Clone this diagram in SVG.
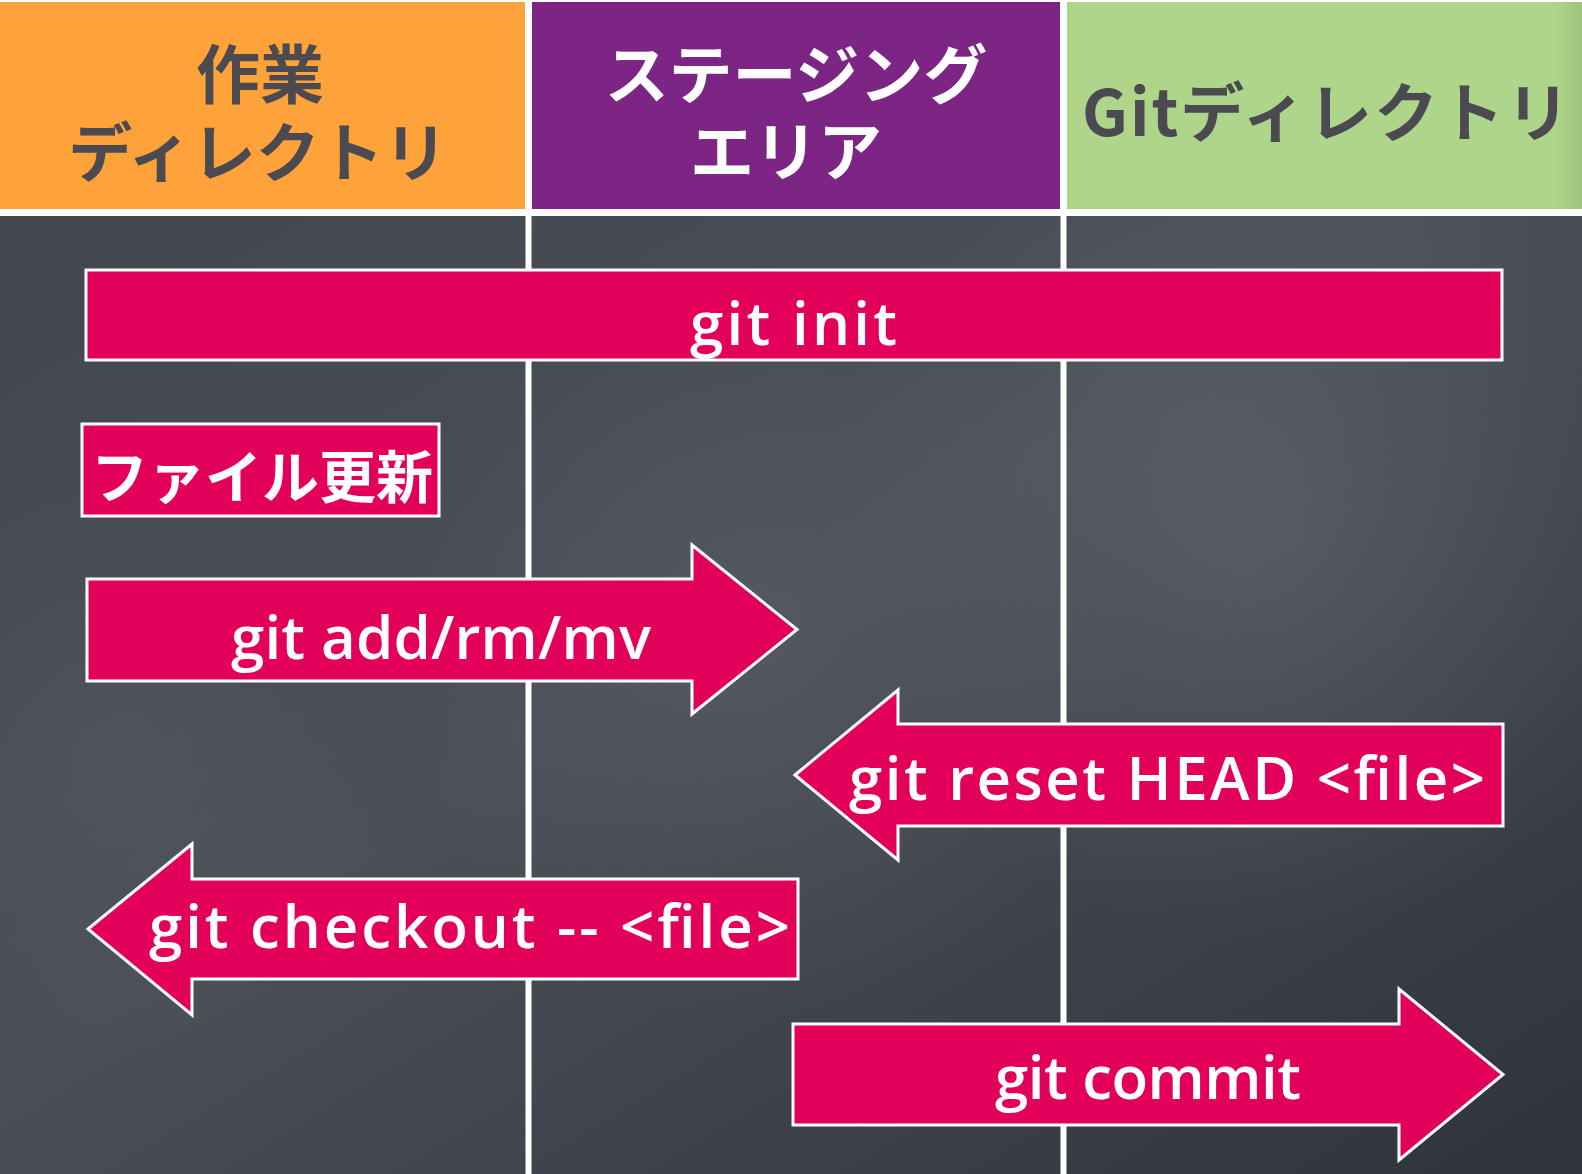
<svg xmlns="http://www.w3.org/2000/svg" width="1582" height="1174" viewBox="0 0 1582 1174">
  <defs>
    <linearGradient id="board" x1="0" y1="0" x2="1" y2="1">
      <stop offset="0" stop-color="#43484f"/>
      <stop offset="0.45" stop-color="#4a4f58"/>
      <stop offset="1" stop-color="#2f333a"/>
    </linearGradient>
    <radialGradient id="glow1" cx="1250" cy="520" r="420" gradientUnits="userSpaceOnUse">
      <stop offset="0" stop-color="#6a6e76" stop-opacity="0.5"/>
      <stop offset="1" stop-color="#6a6e76" stop-opacity="0"/>
    </radialGradient>
    <radialGradient id="glow2" cx="760" cy="640" r="380" gradientUnits="userSpaceOnUse">
      <stop offset="0" stop-color="#62666e" stop-opacity="0.4"/>
      <stop offset="1" stop-color="#62666e" stop-opacity="0"/>
    </radialGradient>
    <radialGradient id="glow3" cx="120" cy="760" r="300" gradientUnits="userSpaceOnUse">
      <stop offset="0" stop-color="#5e626a" stop-opacity="0.3"/>
      <stop offset="1" stop-color="#5e626a" stop-opacity="0"/>
    </radialGradient>
    <linearGradient id="greenEdge" x1="0" y1="0" x2="1" y2="0">
      <stop offset="0.95" stop-color="#aed589"/>
      <stop offset="1" stop-color="#9cc47a"/>
    </linearGradient>
  </defs>
  <style>
    .hdr { font-family: "Noto Sans CJK JP", "Noto Sans", sans-serif; font-size: 64px; font-weight: 700; }
    .dark { fill: #4a4a50; }
    .light { fill: #ffffff; }
    .shape { fill: #e3005a; stroke: #ffffff; stroke-width: 3; stroke-linejoin: miter; }
    .lbl { font-family: "Open Sans", "Noto Sans", sans-serif; font-size: 60px; font-weight: 600; fill: #ffffff; }
    .lblj { font-family: "Noto Sans CJK JP", sans-serif; font-size: 57px; font-weight: 700; fill: #ffffff; }
    .lane { stroke: #ffffff; stroke-width: 6; }
  </style>

  <rect x="0" y="0" width="1582" height="1174" fill="#ffffff"/>

  <g id="board-bg">
    <rect x="0" y="216" width="1582" height="958" fill="url(#board)"/>
    <rect x="0" y="216" width="1582" height="958" fill="url(#glow1)"/>
    <rect x="0" y="216" width="1582" height="958" fill="url(#glow2)"/>
    <rect x="0" y="216" width="1582" height="958" fill="url(#glow3)"/>
  </g>

  <g id="lanes">
    <line class="lane" x1="528.5" y1="210" x2="528.5" y2="1174"/>
    <line class="lane" x1="1063.5" y1="210" x2="1063.5" y2="1174"/>
  </g>

  <g id="header-working">
    <rect x="0" y="2" width="525" height="207" fill="#ffa239"/>
    <text class="hdr dark" x="260" y="98" text-anchor="middle">作業</text>
    <text class="hdr dark" x="258" y="176" text-anchor="middle">ディレクトリ</text>
  </g>

  <g id="header-staging">
    <rect x="532" y="2" width="528" height="207" fill="#7d2585"/>
    <text class="hdr light" x="796" y="98" text-anchor="middle">ステージング</text>
    <text class="hdr light" x="786" y="175" text-anchor="middle">エリア</text>
  </g>

  <g id="header-git">
    <rect x="1067" y="2" width="515" height="207" fill="url(#greenEdge)"/>
    <text class="hdr dark" x="1082" y="136" font-size="65" textLength="488" lengthAdjust="spacing">Gitディレクトリ</text>
  </g>

  <g id="git-init">
    <rect class="shape" x="86" y="270" width="1416" height="90"/>
    <text class="lbl" x="690" y="345" textLength="207" lengthAdjust="spacing">git init</text>
  </g>

  <g id="file-update">
    <rect class="shape" x="82" y="424" width="357" height="92"/>
    <text class="lblj" x="262" y="498" text-anchor="middle">ファイル更新</text>
  </g>

  <g id="git-add">
    <path class="shape" d="M87,579 H692 V545 L797,629.5 L692,714 V681 H87 Z"/>
    <text class="lbl" x="231" y="659" textLength="420" lengthAdjust="spacing">git add/rm/mv</text>
  </g>

  <g id="git-reset">
    <path class="shape" d="M795,775 L898,690 V724 H1503 V826 H898 V860 Z"/>
    <text class="lbl" x="849" y="800" textLength="636" lengthAdjust="spacing">git reset HEAD &lt;file&gt;</text>
  </g>

  <g id="git-checkout">
    <path class="shape" d="M88,929 L192,844 V879 H798 V979 H192 V1015 Z"/>
    <text class="lbl" x="149" y="948" textLength="641" lengthAdjust="spacing">git checkout -- &lt;file&gt;</text>
  </g>

  <g id="git-commit">
    <path class="shape" d="M793,1024 H1399 V989 L1503,1074.5 L1399,1160 V1125 H793 Z"/>
    <text class="lbl" x="995" y="1099" textLength="306" lengthAdjust="spacing">git commit</text>
  </g>
</svg>
